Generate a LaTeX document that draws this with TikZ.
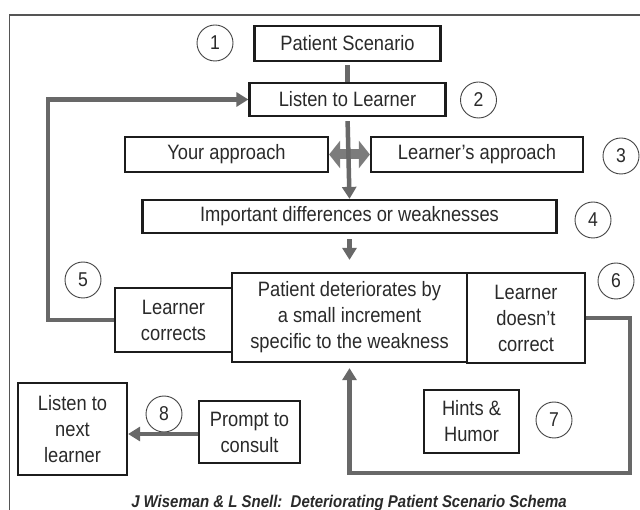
\documentclass[tikz,border=0pt]{standalone}
\usepackage{fontspec}
\setmainfont{Liberation Sans}
\newfontfamily\narrowfont[FakeStretch=0.88]{Liberation Sans}
\usetikzlibrary{arrows.meta}
\definecolor{conncol}{HTML}{686868}
\definecolor{dblcol}{HTML}{7C7C7C}
\definecolor{boxcol}{HTML}{1C1C1C}
\definecolor{txtcol}{HTML}{2A2A2A}
\definecolor{framecol}{HTML}{555555}
\definecolor{circcol}{HTML}{444444}
\tikzset{
  box/.style={draw=boxcol, line width=2.2pt, text=txtcol, inner sep=0pt, align=center,
    font=\narrowfont\fontsize{20.8}{26}\selectfont},
  conn/.style={draw=conncol, line width=4.5pt},
  tip/.style={-{Triangle[length=12pt,width=14pt]}},
  num/.style={circle, draw=circcol, line width=0.9pt, minimum size=36pt, inner sep=0pt,
    text=txtcol, font=\narrowfont\fontsize{20}{22}\selectfont},
}
\begin{document}
\begin{tikzpicture}[x=1pt,y=-1pt]
\useasboundingbox (0,0) rectangle (640,510);
\fill[white] (0,0) rectangle (640,510);
% frame
\draw[draw=framecol, line width=1.4pt] (9.5,510) -- (9.5,15) -- (640,15);

% boxes
\node[box, minimum width=186pt, minimum height=35pt] (ps) at (347.5,43.5) {Patient Scenario};
\node[box, minimum width=196pt, minimum height=33pt] (ll) at (347.5,99.5) {Listen to Learner};
\node[box, minimum width=203pt, minimum height=35pt] (ya) at (226.5,154.5) {Your approach};
\node[box, minimum width=212pt, minimum height=35pt] (la) at (477,154.5) {Learner’s approach};
\node[box, minimum width=414pt, minimum height=33pt] (id) at (349.5,216.5) {Important differences or weaknesses};
\node[box, minimum width=235pt, minimum height=89pt] (pd) at (349.5,317.5) {Patient deteriorates by\\a small increment\\specific to the weakness};
\node[box, minimum width=117pt, minimum height=64pt] (lc) at (173.5,320) {Learner\\corrects};
\node[box, minimum width=118pt, minimum height=90pt] (ldc) at (526,318) {Learner\\doesn’t\\correct};
\node[box, minimum width=95pt, minimum height=63pt] (hh) at (471.5,421.5) {Hints \&\\Humor};
\node[box, minimum width=109pt, minimum height=92pt] (ln) at (72.5,429) {Listen to\\next\\learner};
\node[box, minimum width=101pt, minimum height=62pt] (pc) at (249.5,432) {Prompt to\\consult};

% numbers
\node[num] (n1) at (215,43) {1};
\node[num] (n2) at (478.5,100) {2};
\node[num] (n3) at (621,156) {3};
\node[num] (n4) at (593,220) {4};
\node[num] (n5) at (83,280) {5};
\node[num] (n6) at (616,281) {6};
\node[num] (n7) at (554,420) {7};
\node[num] (n8) at (164,414) {8};

% connectors
\coordinate (lx) at (48,0);
\coordinate (rx) at (630,473);
\draw[conn, shorten <=3pt] (ps.south) -- (ll.north);
\draw[draw=dblcol, line width=10pt, {Triangle[length=11pt,width=27pt]}-{Triangle[length=11pt,width=27pt]}] (ya.east) -- (la.west);
\draw[conn, tip, shorten <=4pt] (ll.south) -- (id.north);
\draw[conn, tip, shorten <=5pt, shorten >=12pt] (id.south) -- (pd.north);
\draw[conn, tip] (lc.west) -| (lx |- ll.west) -- (ll.west);
\draw[conn, tip, shorten >=5pt] (ldc.east) -| (rx) -| (pd.south);
\draw[conn, tip] (pc.west |- 0,434) -- (ln.east |- 0,434);

% caption
\node[anchor=base, text=txtcol, font=\narrowfont\fontsize{17}{20}\selectfont\bfseries\itshape] (cap) at (349,507) {J Wiseman \& L Snell:\ \ Deteriorating Patient Scenario Schema};
\end{tikzpicture}
\end{document}
